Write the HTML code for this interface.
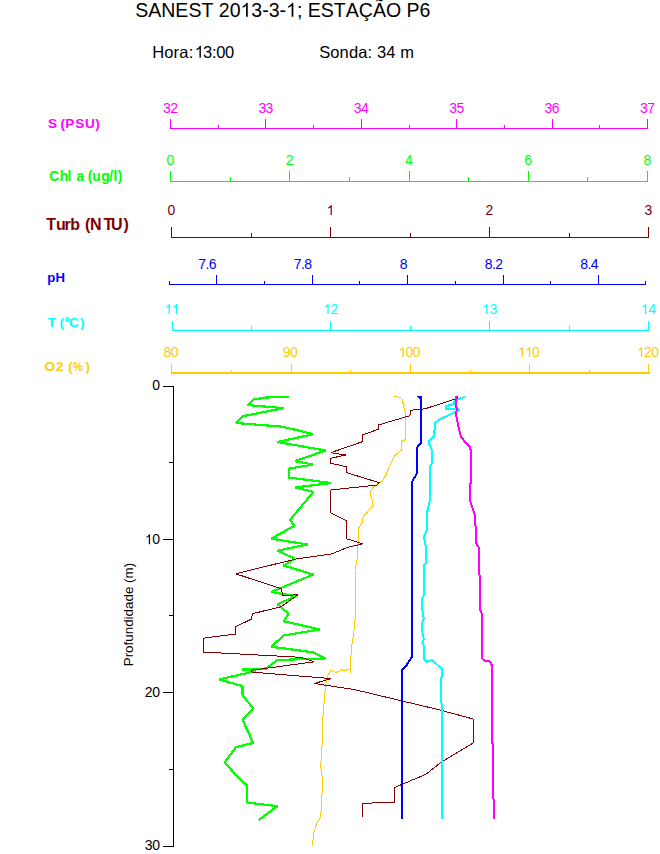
<!DOCTYPE html>
<html><head><meta charset="utf-8"><title>SANEST 2013-3-1; ESTAÇÃO P6</title>
<style>
html,body{margin:0;padding:0;background:#fff}
svg text{font-family:'Liberation Sans', sans-serif;}
</style></head>
<body>
<svg width="660" height="854" viewBox="0 0 660 854" style="display:block">
<rect width="660" height="854" fill="#fff"/>
<path transform="translate(240.49,16.7) scale(0.009536,-0.009536)" d="M763 0H583V1147Q518 1085 412.5 1023T223 930V1104Q373 1174.5 485.5 1275T644 1470H763Z" fill="#000"/>
<path transform="translate(286.08,16.7) scale(0.009536,-0.009536)" d="M763 0H583V1147Q518 1085 412.5 1023T223 930V1104Q373 1174.5 485.5 1275T644 1470H763Z" fill="#000"/>
<text x="135.20 148.23 161.25 175.36 188.38 201.41 218.77 229.63 251.35 262.21 268.72 279.58 296.94 307.79 320.82 333.85 345.78 358.80 372.91 385.93 406.55 419.58" y="16.7" font-size="19.53" fill="#000">SANEST203-3-;ESTAÇÃOP6</text>
<path transform="translate(194.75,57.7) scale(0.008057,-0.008057)" d="M763 0H583V1147Q518 1085 412.5 1023T223 930V1104Q373 1174.5 485.5 1275T644 1470H763Z" fill="#000"/>
<text x="152.20 164.32 173.59 179.19 188.86 203.12 211.90 216.28 225.06" y="57.7" font-size="16.5" fill="#000">Hora:3:00</text>
<text x="319.2" y="57.7" font-size="16.5" fill="#000" text-anchor="start" letter-spacing="0.12">Sonda: 34 m</text>
<g stroke="#ff00ff" stroke-width="1" fill="none" shape-rendering="crispEdges">
<line x1="170.0" y1="128.5" x2="648.0" y2="128.5" stroke-width="1"/>
<line x1="170.50" y1="119.00" x2="170.50" y2="129.00"/>
<line x1="218.50" y1="125.00" x2="218.50" y2="129.00"/>
<line x1="265.50" y1="119.00" x2="265.50" y2="129.00"/>
<line x1="313.50" y1="125.00" x2="313.50" y2="129.00"/>
<line x1="361.50" y1="119.00" x2="361.50" y2="129.00"/>
<line x1="409.50" y1="125.00" x2="409.50" y2="129.00"/>
<line x1="456.50" y1="119.00" x2="456.50" y2="129.00"/>
<line x1="504.50" y1="125.00" x2="504.50" y2="129.00"/>
<line x1="552.50" y1="119.00" x2="552.50" y2="129.00"/>
<line x1="599.50" y1="125.00" x2="599.50" y2="129.00"/>
<line x1="647.50" y1="119.00" x2="647.50" y2="129.00"/>
</g>
<g>
<text x="163.01 170.20" y="113" font-size="14" fill="#ff00ff">32</text>
<text x="258.41 265.60" y="113" font-size="14" fill="#ff00ff">33</text>
<text x="353.81 361.00" y="113" font-size="14" fill="#ff00ff">34</text>
<text x="449.21 456.40" y="113" font-size="14" fill="#ff00ff">35</text>
<text x="544.61 551.80" y="113" font-size="14" fill="#ff00ff">36</text>
<text x="640.01 647.20" y="113" font-size="14" fill="#ff00ff">37</text>
</g>
<g stroke="#00ff00" stroke-width="1" fill="none" shape-rendering="crispEdges">
<line x1="170.0" y1="181.5" x2="648.0" y2="181.5" stroke-width="1"/>
<line x1="170.50" y1="171.00" x2="170.50" y2="182.00"/>
<line x1="230.50" y1="177.00" x2="230.50" y2="182.00"/>
<line x1="289.50" y1="171.00" x2="289.50" y2="182.00"/>
<line x1="349.50" y1="177.00" x2="349.50" y2="182.00"/>
<line x1="409.50" y1="171.00" x2="409.50" y2="182.00"/>
<line x1="468.50" y1="177.00" x2="468.50" y2="182.00"/>
<line x1="528.50" y1="171.00" x2="528.50" y2="182.00"/>
<line x1="587.50" y1="177.00" x2="587.50" y2="182.00"/>
<line x1="647.50" y1="171.00" x2="647.50" y2="182.00"/>
</g>
<g>
<text x="166.61" y="165" font-size="14" fill="#00ff00">0</text>
<text x="285.86" y="165" font-size="14" fill="#00ff00">2</text>
<text x="405.11" y="165" font-size="14" fill="#00ff00">4</text>
<text x="524.36" y="165" font-size="14" fill="#00ff00">6</text>
<text x="643.61" y="165" font-size="14" fill="#00ff00">8</text>
</g>
<g stroke="#800000" stroke-width="1" fill="none" shape-rendering="crispEdges">
<line x1="171.0" y1="237.5" x2="649.0" y2="237.5" stroke-width="1"/>
<line x1="171.50" y1="227.00" x2="171.50" y2="238.00"/>
<line x1="251.50" y1="233.00" x2="251.50" y2="238.00"/>
<line x1="330.50" y1="227.00" x2="330.50" y2="238.00"/>
<line x1="410.50" y1="233.00" x2="410.50" y2="238.00"/>
<line x1="489.50" y1="227.00" x2="489.50" y2="238.00"/>
<line x1="569.50" y1="233.00" x2="569.50" y2="238.00"/>
<line x1="648.50" y1="227.00" x2="648.50" y2="238.00"/>
</g>
<g>
<text x="167.61" y="215" font-size="14" fill="#800000">0</text>
<path transform="translate(326.61,215) scale(0.006836,-0.006836)" d="M763 0H583V1147Q518 1085 412.5 1023T223 930V1104Q373 1174.5 485.5 1275T644 1470H763Z" fill="#800000"/>
<text x="485.61" y="215" font-size="14" fill="#800000">2</text>
<text x="644.61" y="215" font-size="14" fill="#800000">3</text>
</g>
<g stroke="#0000ff" stroke-width="1" fill="none" shape-rendering="crispEdges">
<line x1="169.0" y1="284.5" x2="646.0" y2="284.5" stroke-width="1"/>
<line x1="169.50" y1="281.00" x2="169.50" y2="285.00"/>
<line x1="216.50" y1="275.00" x2="216.50" y2="285.00"/>
<line x1="264.50" y1="281.00" x2="264.50" y2="285.00"/>
<line x1="312.50" y1="275.00" x2="312.50" y2="285.00"/>
<line x1="359.50" y1="281.00" x2="359.50" y2="285.00"/>
<line x1="407.50" y1="275.00" x2="407.50" y2="285.00"/>
<line x1="455.50" y1="281.00" x2="455.50" y2="285.00"/>
<line x1="503.50" y1="275.00" x2="503.50" y2="285.00"/>
<line x1="550.50" y1="281.00" x2="550.50" y2="285.00"/>
<line x1="598.50" y1="275.00" x2="598.50" y2="285.00"/>
<line x1="645.50" y1="281.00" x2="645.50" y2="285.00"/>
</g>
<g>
<text x="198.34 205.52 208.81" y="269" font-size="14" fill="#0000ff">7.6</text>
<text x="293.84 301.02 304.31" y="269" font-size="14" fill="#0000ff">7.8</text>
<text x="399.81" y="269" font-size="14" fill="#0000ff">8</text>
<text x="484.84 492.02 495.31" y="269" font-size="14" fill="#0000ff">8.2</text>
<text x="580.34 587.52 590.81" y="269" font-size="14" fill="#0000ff">8.4</text>
</g>
<g stroke="#00ffff" stroke-width="1" fill="none" shape-rendering="crispEdges">
<line x1="171.6" y1="330.5" x2="649.0" y2="330.5" stroke-width="1"/>
<line x1="172.50" y1="321.00" x2="172.50" y2="331.00"/>
<line x1="251.50" y1="326.00" x2="251.50" y2="331.00"/>
<line x1="330.50" y1="321.00" x2="330.50" y2="331.00"/>
<line x1="410.50" y1="326.00" x2="410.50" y2="331.00"/>
<line x1="489.50" y1="321.00" x2="489.50" y2="331.00"/>
<line x1="569.50" y1="326.00" x2="569.50" y2="331.00"/>
<line x1="648.50" y1="321.00" x2="648.50" y2="331.00"/>
</g>
<g>
<path transform="translate(164.61,314) scale(0.006836,-0.006836)" d="M763 0H583V1147Q518 1085 412.5 1023T223 930V1104Q373 1174.5 485.5 1275T644 1470H763Z" fill="#00ffff"/>
<path transform="translate(171.80,314) scale(0.006836,-0.006836)" d="M763 0H583V1147Q518 1085 412.5 1023T223 930V1104Q373 1174.5 485.5 1275T644 1470H763Z" fill="#00ffff"/>
<path transform="translate(323.41,314) scale(0.006836,-0.006836)" d="M763 0H583V1147Q518 1085 412.5 1023T223 930V1104Q373 1174.5 485.5 1275T644 1470H763Z" fill="#00ffff"/>
<text x="330.60" y="314" font-size="14" fill="#00ffff">2</text>
<path transform="translate(482.21,314) scale(0.006836,-0.006836)" d="M763 0H583V1147Q518 1085 412.5 1023T223 930V1104Q373 1174.5 485.5 1275T644 1470H763Z" fill="#00ffff"/>
<text x="489.40" y="314" font-size="14" fill="#00ffff">3</text>
<path transform="translate(641.01,314) scale(0.006836,-0.006836)" d="M763 0H583V1147Q518 1085 412.5 1023T223 930V1104Q373 1174.5 485.5 1275T644 1470H763Z" fill="#00ffff"/>
<text x="648.20" y="314" font-size="14" fill="#00ffff">4</text>
</g>
<g stroke="#ffcc00" stroke-width="1" fill="none" shape-rendering="crispEdges">
<line x1="171.0" y1="373" x2="650.0" y2="373" stroke-width="2"/>
<line x1="171.50" y1="363.50" x2="171.50" y2="374.00"/>
<line x1="231.50" y1="369.50" x2="231.50" y2="374.00"/>
<line x1="291.50" y1="363.50" x2="291.50" y2="374.00"/>
<line x1="350.50" y1="369.50" x2="350.50" y2="374.00"/>
<line x1="410.50" y1="363.50" x2="410.50" y2="374.00"/>
<line x1="470.50" y1="369.50" x2="470.50" y2="374.00"/>
<line x1="529.50" y1="363.50" x2="529.50" y2="374.00"/>
<line x1="589.50" y1="369.50" x2="589.50" y2="374.00"/>
<line x1="648.50" y1="363.50" x2="648.50" y2="374.00"/>
</g>
<g>
<text x="163.51 170.70" y="357" font-size="14" fill="#ffcc00">80</text>
<text x="282.76 289.95" y="357" font-size="14" fill="#ffcc00">90</text>
<path transform="translate(398.42,357) scale(0.006836,-0.006836)" d="M763 0H583V1147Q518 1085 412.5 1023T223 930V1104Q373 1174.5 485.5 1275T644 1470H763Z" fill="#ffcc00"/>
<text x="405.61 412.79" y="357" font-size="14" fill="#ffcc00">00</text>
<path transform="translate(517.67,357) scale(0.006836,-0.006836)" d="M763 0H583V1147Q518 1085 412.5 1023T223 930V1104Q373 1174.5 485.5 1275T644 1470H763Z" fill="#ffcc00"/>
<path transform="translate(524.86,357) scale(0.006836,-0.006836)" d="M763 0H583V1147Q518 1085 412.5 1023T223 930V1104Q373 1174.5 485.5 1275T644 1470H763Z" fill="#ffcc00"/>
<text x="532.04" y="357" font-size="14" fill="#ffcc00">0</text>
<path transform="translate(636.92,357) scale(0.006836,-0.006836)" d="M763 0H583V1147Q518 1085 412.5 1023T223 930V1104Q373 1174.5 485.5 1275T644 1470H763Z" fill="#ffcc00"/>
<text x="644.11 651.29" y="357" font-size="14" fill="#ffcc00">20</text>
</g>
<text x="48.11 60.42 65.29 75.31 84.88 95.29" y="127.9" font-size="13.6" fill="#ff00ff" font-weight="bold">S(PSU)</text>
<text x="49.23 59.74 67.44 76.40 87.71 92.34 101.13 109.17 113.44 117.79" y="181.3" font-size="13.8" fill="#00ff00" font-weight="bold">Chla(ug/l)</text>
<text x="46.32 56.01 64.55 70.35 85.00 90.03 103.42 110.94 123.48" y="229.7" font-size="16" fill="#800000" font-weight="bold">Turb(NTU)</text>
<text x="47.33 55.52" y="281.6" font-size="13.2" fill="#0000ff" font-weight="bold">pH</text>
<text x="47.45 59.52 64.70 68.94 79.99" y="326.8" font-size="13.7" fill="#00ffff" font-weight="bold">T(ºC)</text>
<text x="44.45 55.93 68.23 85.49" y="370.7" font-size="13.5" fill="#ffcc00" font-weight="bold">O2()</text>
<text transform="translate(72.93,370.7) scale(0.813,1)" font-size="13.5" fill="#ffcc00" font-weight="bold">%</text>
<g stroke="#000" stroke-width="1" fill="none" shape-rendering="crispEdges">
<line x1="173.5" y1="386" x2="173.5" y2="847"/>
<line x1="163" y1="386.5" x2="174" y2="386.5"/>
<line x1="169" y1="462.5" x2="174" y2="462.5"/>
<line x1="163" y1="539.5" x2="174" y2="539.5"/>
<line x1="169" y1="615.5" x2="174" y2="615.5"/>
<line x1="163" y1="692.5" x2="174" y2="692.5"/>
<line x1="169" y1="769.5" x2="174" y2="769.5"/>
<line x1="163" y1="846.5" x2="174" y2="846.5"/>
</g>
<g>
<text x="152.21" y="390" font-size="14" fill="#000">0</text>
<path transform="translate(144.83,544.2) scale(0.006836,-0.006836)" d="M763 0H583V1147Q518 1085 412.5 1023T223 930V1104Q373 1174.5 485.5 1275T644 1470H763Z" fill="#000"/>
<text x="152.21" y="544.2" font-size="14" fill="#000">0</text>
<text x="144.83 152.21" y="697.2" font-size="14" fill="#000">20</text>
<text x="144.83 152.21" y="850" font-size="14" fill="#000">30</text>
</g>
<text transform="translate(133.4,666.3) rotate(-90)" font-size="13.4" fill="#000">Profundidade (m)</text>
<polyline points="289.5,397.0 266.0,397.5 253.7,399.5 247.5,405.0 283.7,408.2 242.5,416.2 236.2,423.0 282.5,426.7 313.2,434.2 277.5,442.0 325.5,450.5 295.0,461.2 313.2,464.5 288.7,468.7 288.7,477.5 331.2,483.0 295.0,487.5 313.2,492.0 290.0,520.0 294.5,525.7 271.2,538.7 307.5,544.5 277.5,550.7 295.0,558.7 283.7,565.5 313.2,574.5 271.2,592.0 296.2,596.2 277.5,604.2 288.7,613.7 283.7,621.2 319.8,629.4 283.7,635.5 271.2,646.7 313.2,652.3 325.7,658.4 277.5,660.0 266.2,668.5 242.3,669.5 256.0,671.0 219.0,679.5 242.5,686.2 242.5,695.0 253.2,708.7 242.5,719.5 253.2,743.0 236.2,747.0 224.5,762.5 236.2,775.0 247.0,785.5 247.0,802.5 277.5,806.2 258.7,820.0" fill="none" stroke="#00ff00" stroke-width="2.2" stroke-linejoin="bevel" shape-rendering="crispEdges"/>
<polyline points="394.2,396.0 400.8,397.7 402.5,399.7 402.5,403.0 404.7,404.7 403.3,405.5 405.0,411.3 405.8,414.7 405.0,417.2 405.0,439.7 402.0,441.3 401.6,449.8 394.9,455.5 391.3,462.5 389.2,466.7 385.7,475.2 382.2,481.5 378.0,483.6 373.8,486.4 370.2,492.0 370.7,496.3 372.6,499.8 372.6,506.1 363.2,516.7 362.5,521.6 358.3,528.6 357.8,556.7 355.0,570.0 356.0,606.7 355.0,620.0 353.3,636.7 352.3,641.0 351.0,655.0 350.4,672.6 350.4,668.5 344.0,671.0 341.7,669.5 336.4,672.6 331.0,670.3 327.3,676.4 325.8,684.0 324.5,696.7 322.7,720.0 322.7,743.3 321.7,747.3 320.7,767.3 322.7,780.7 321.7,800.7 320.7,817.3 316.7,823.3 313.3,834.0 312.7,845.7" fill="none" stroke="#ffcc00" stroke-width="1" stroke-linejoin="bevel" shape-rendering="crispEdges"/>
<polyline points="457.5,396.3 457.5,398.8 453.3,399.7 425.0,408.8 410.8,410.2 410.5,415.5 378.3,425.0 378.3,429.3 362.3,435.0 362.3,441.7 330.7,452.7 345.7,455.0 330.7,458.3 330.7,463.3 346.7,466.7 346.7,472.7 379.3,482.7 377.3,485.0 330.7,490.0 330.7,512.7 346.7,520.7 346.7,538.8 363.0,543.8 347.7,547.3 331.8,553.9 295.5,559.1 235.7,573.8 281.8,588.9 282.3,595.7 298.0,594.7 281.2,606.7 252.5,613.7 251.2,619.2 235.6,626.8 235.6,634.0 203.3,638.2 203.3,652.5 215.5,652.7 300.7,657.3 314.3,661.8 251.8,670.2 251.8,672.1 331.0,678.6 314.4,683.5 354.5,689.6 401.8,700.9 440.0,710.0 473.6,719.1 473.6,742.7 441.8,761.8 425.5,774.5 394.6,787.5 394.6,802.3 378.3,802.3 362.3,804.0 362.3,817.3" fill="none" stroke="#800000" stroke-width="1" stroke-linejoin="bevel" shape-rendering="crispEdges"/>
<polyline points="421.0,396.0 421.0,443.0 417.0,447.5 417.0,473.3 412.0,481.7 412.0,656.7 406.7,665.0 402.0,670.0 402.0,818.5" fill="none" stroke="#0000ff" stroke-width="2" stroke-linejoin="bevel" shape-rendering="crispEdges"/>
<polygon points="417,395.5 422,395.5 422,397 420,399 419,399 417,397" fill="#0000ff" shape-rendering="crispEdges"/>
<polyline points="464.7,396.7 454.2,401.3 454.2,403.8 445.8,406.3 445.8,408.8 459.2,409.3 459.2,410.5 453.3,413.0 440.8,418.8 435.0,423.0 434.2,435.5 429.2,440.5 429.2,443.8 431.7,449.7 432.2,463.0 430.2,465.6 430.2,499.0 426.5,514.8 426.5,530.6 424.0,536.8 426.4,549.3 426.0,563.4 423.9,565.1 423.9,595.0 422.2,598.5 422.6,614.4 423.9,617.9 422.2,623.1 422.6,635.4 423.9,639.0 422.2,642.5 423.9,646.0 423.9,659.2 426.4,661.8 432.5,660.2 437.8,665.3 442.0,668.8 442.0,673.0 440.7,685.0 440.7,700.0 442.0,705.0 442.0,819.0" fill="none" stroke="#00ffff" stroke-width="2" stroke-linejoin="bevel" shape-rendering="crispEdges"/>
<polyline points="456.3,396.0 455.8,404.7 457.0,409.3 455.8,413.0 458.3,426.3 460.8,436.3 465.0,442.2 470.0,447.2 471.3,453.0 471.0,481.0 470.2,485.0 470.2,500.7 474.7,514.8 475.9,530.6 475.9,542.3 478.7,547.6 478.7,574.0 480.0,575.7 480.0,609.0 481.7,613.5 481.7,653.0 482.6,659.2 486.1,661.5 489.6,661.0 491.9,665.3 491.7,740.0 493.3,746.7 493.3,797.3 494.3,804.0 494.3,819.0" fill="none" stroke="#ff00ff" stroke-width="2" stroke-linejoin="bevel" shape-rendering="crispEdges"/>
</svg>
</body></html>
